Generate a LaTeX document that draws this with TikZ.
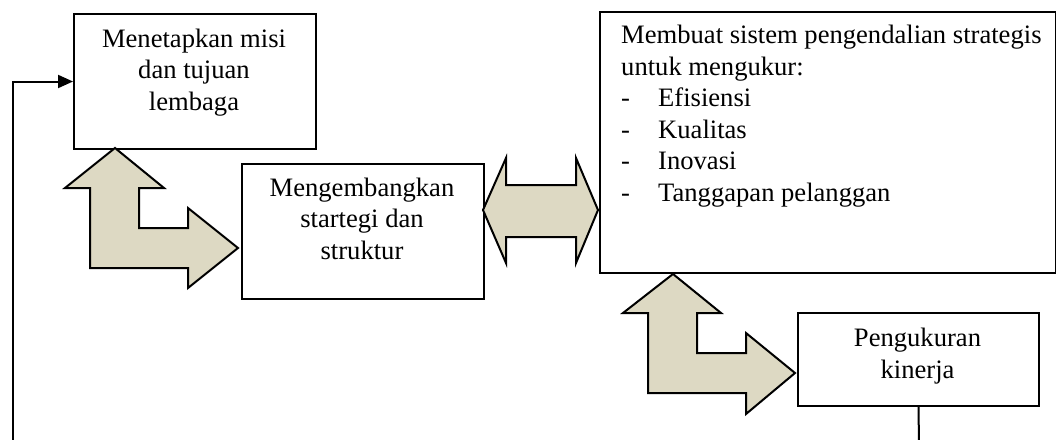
\documentclass[tikz,border=0pt]{standalone}
\usepackage{fontspec}
\setmainfont{Liberation Serif}
\usetikzlibrary{arrows.meta}
\definecolor{tan}{HTML}{DDD9C3}
\begin{document}
\begin{tikzpicture}[x=1pt,y=-1pt,
  box/.style={draw=black,line width=2pt,fill=white,inner sep=0pt,anchor=north west},
  label/.style={inner sep=0pt,align=center,anchor=base,font=\fontsize{26.6}{31.5}\selectfont},
  fatarrow/.style={draw=black,line width=2pt,fill=tan,line join=miter},
  link/.style={draw=black,line width=2pt}]
\useasboundingbox (0,0) rectangle (1056,439);
\clip (0,0) rectangle (1056,439);

% boxes
\node[box,minimum width=242pt,minimum height=135pt] (misi) at (73,13) {};
\node[box,minimum width=242pt,minimum height=135pt] (strat) at (241,163) {};
\node[box,minimum width=456pt,minimum height=261pt] (kendali) at (599,11) {};
\node[box,minimum width=241pt,minimum height=93pt] (ukur) at (797,312) {};

% texts (positioned by the baseline of their last line)
\node[label] (tmisi) at (194,110) {Menetapkan misi\\dan tujuan\\lembaga};
\node[label] (tstrat) at (362,259) {Mengembangkan\\startegi dan\\struktur};
\node[label] (tukur) at (917.5,378) {Pengukuran\\kinerja};
\node[label,align=left,anchor=base west] (tkendali) at (621,201)
  {Membuat sistem pengendalian strategis\\untuk mengukur:\\
   \hbox to 37pt{-\hfil}Efisiensi\\
   \hbox to 37pt{-\hfil}Kualitas\\
   \hbox to 37pt{-\hfil}Inovasi\\
   \hbox to 37pt{-\hfil}Tanggapan pelanggan};

% bent two-way arrows and the horizontal two-way arrow
\draw[fatarrow] (115,148) -- (164,188) -- (139,188) -- (139,228) -- (188,228) -- (188,208)
  -- (238,248) -- (188,288) -- (188,268) -- (90,268) -- (90,188) -- (65,188) -- cycle;
\draw[fatarrow] (483,210) -- (506,158) -- (506,185) -- (576,185) -- (576,158) -- (598,210)
  -- (576,263) -- (576,237) -- (506,237) -- (506,263) -- cycle;
\draw[fatarrow] (673,274) -- (721,313) -- (697,313) -- (697,353) -- (746,353) -- (746,333)
  -- (795,373) -- (746,414) -- (746,393) -- (648,393) -- (648,313) -- (623,313) -- cycle;

% feedback loop back to the first box
\coordinate (fbdown) at (919,445);
\coordinate (fbleft) at (13,445);
\draw[link] (ukur.south) -- (fbdown);
\draw[link,-{Triangle[length=15pt,width=13pt]}] (fbleft) |- (misi.west);
\end{tikzpicture}
\end{document}
